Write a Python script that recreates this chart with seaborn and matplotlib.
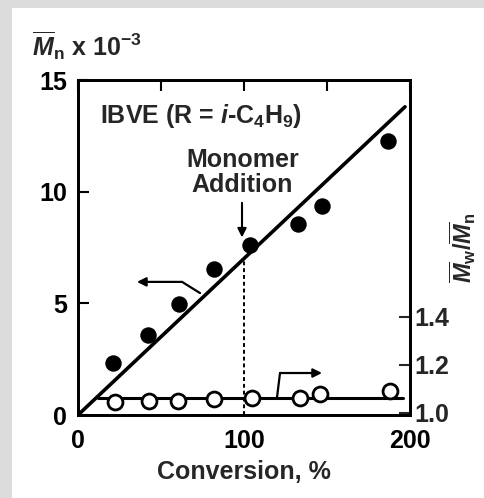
import matplotlib
matplotlib.use("Agg")
import matplotlib.pyplot as plt
import seaborn as sns
import numpy as np
import pandas as pd
from matplotlib.patches import Rectangle

# ---------------- data ----------------
conv_mn = [21, 42, 61, 82, 103.5, 132.5, 147, 187]
mn_values = [2.35, 3.6, 4.95, 6.55, 7.62, 8.55, 9.35, 12.25]

conv_ratio = [22, 43, 60, 82, 105, 134, 146, 188]
ratio_values = [1.046, 1.049, 1.049, 1.056, 1.062, 1.062, 1.078, 1.092]

mn_fit_x = [0, 197]
mn_fit_y = [0, 13.8]
ratio_fit_x = [12, 196]
ratio_fit_y = [1.06, 1.06]

x_ticks = [0, 100, 200]
y_ticks = [0, 5, 10, 15]
y2_ticks = [1.0, 1.2, 1.4]
y2_labels = ["1.0", "1.2", "1.4"]

df_mn = pd.DataFrame({"conv": conv_mn, "mn": mn_values})
df_ratio = pd.DataFrame({"conv": conv_ratio, "ratio": ratio_values})

# ---------------- style ----------------
sns.set_style("white")
plt.rcParams["font.family"] = ["Liberation Sans", "DejaVu Sans"]
plt.rcParams["font.weight"] = "bold"
plt.rcParams["mathtext.fontset"] = "custom"
plt.rcParams["mathtext.rm"] = "Liberation Sans:bold"
plt.rcParams["mathtext.it"] = "Liberation Sans:italic:bold"
plt.rcParams["mathtext.bf"] = "Liberation Sans:bold"

FS = 18
W, H = 484, 498
fig = plt.figure(figsize=(W / 100, H / 100), dpi=100)
fig.patch.set_facecolor("#dcdcdc")
fig.patches.append(Rectangle((12 / W, 0), 1, 1 - 8 / H, transform=fig.transFigure,
                             facecolor="white", edgecolor="none", zorder=-10))

ax = fig.add_axes([78 / W, 1 - 415 / H, (410 - 78) / W, (415 - 80) / H])
ax.set_facecolor("none")
ax2 = ax.twinx()

# Mn data (filled)
sns.scatterplot(data=df_mn, x="conv", y="mn", ax=ax, s=140, color="black",
                edgecolor="black", linewidth=0, zorder=5, legend=False)
sns.lineplot(x=mn_fit_x, y=mn_fit_y, ax=ax, color="black", linewidth=2.6, zorder=4)

# Mw/Mn data (open)
sns.lineplot(x=ratio_fit_x, y=ratio_fit_y, ax=ax2, color="black", linewidth=2.2, zorder=4)
sns.scatterplot(data=df_ratio, x="conv", y="ratio", ax=ax2, s=115, facecolor="white",
                edgecolor="black", linewidth=2.0, zorder=5, legend=False)

# dashed vertical line at monomer addition
ax.plot([100, 100], [0, 7.0], color="black", linestyle=(0, (2, 1.5)), linewidth=1.4, zorder=3)

ax.set_xlim(0, 200)
ax.set_ylim(0, 15)
ax2.set_ylim(0.99, 2.39)

ax.set_xticks(x_ticks)
ax.set_xticklabels([str(t) for t in x_ticks], fontsize=FS, fontweight="bold")
ax.set_yticks(y_ticks)
ax.set_yticklabels([str(t) for t in y_ticks], fontsize=FS, fontweight="bold")
ax.set_xticks([50, 150], minor=True)
ax2.set_yticks(y2_ticks)
ax2.set_yticklabels(y2_labels, fontsize=FS, fontweight="bold")

ax.tick_params(axis="both", which="both", direction="in", length=8, width=1.5,
               top=True, right=False, colors="black")
ax.tick_params(axis="x", which="major", pad=10)
ax.tick_params(axis="y", which="major", pad=8)
ax2.tick_params(axis="y", direction="in", length=8, width=1.5, pad=3)
ax.set_xlabel("Conversion, %", fontsize=FS, fontweight="bold", labelpad=5)
ax.set_ylabel("")
ax2.set_ylabel("")

for a in (ax, ax2):
    for sp in a.spines.values():
        sp.set_linewidth(2.0)
        sp.set_color("black")

# axis titles
fig.text(32 / W, 1 - 46 / H, r"$\overline{M}_{\mathrm{n}}$ x 10$^{-3}$", fontsize=FS,
         fontweight="bold", ha="left", va="center")
fig.text(463 / W, 1 - 248 / H, r"$\overline{M}_{\mathrm{w}}/\overline{M}_{\mathrm{n}}$",
         fontsize=FS - 1, fontweight="bold", rotation=90, ha="center", va="center")

# annotations
ax.text(13, 13.4, r"IBVE (R = $i$-C$_4$H$_9$)", fontsize=FS, fontweight="bold",
        ha="left", va="center")
ax.text(99, 10.85, "Monomer\nAddition", fontsize=FS, fontweight="bold",
        ha="center", va="center", linespacing=1.05)
ax.annotate("", xy=(98.8, 7.95), xytext=(98.8, 9.5),
            arrowprops=dict(arrowstyle="-|>", color="black", lw=1.5,
                            mutation_scale=13, shrinkA=0, shrinkB=0))
# left-pointing arrow (to Mn axis)
ax.plot([73.5, 62.7], [5.46, 5.96], color="black", lw=1.6)
ax.annotate("", xy=(35.5, 5.96), xytext=(62.7, 5.96),
            arrowprops=dict(arrowstyle="-|>", color="black", lw=1.6,
                            mutation_scale=13, shrinkA=0, shrinkB=0))
# right-pointing arrow (to Mw/Mn axis)
ax.plot([119.9, 121.7], [0.8, 1.88], color="black", lw=1.6)
ax.annotate("", xy=(147, 1.88), xytext=(121.7, 1.88),
            arrowprops=dict(arrowstyle="-|>", color="black", lw=1.6,
                            mutation_scale=13, shrinkA=0, shrinkB=0))

fig.savefig("out.png", dpi=100, facecolor=fig.get_facecolor())
